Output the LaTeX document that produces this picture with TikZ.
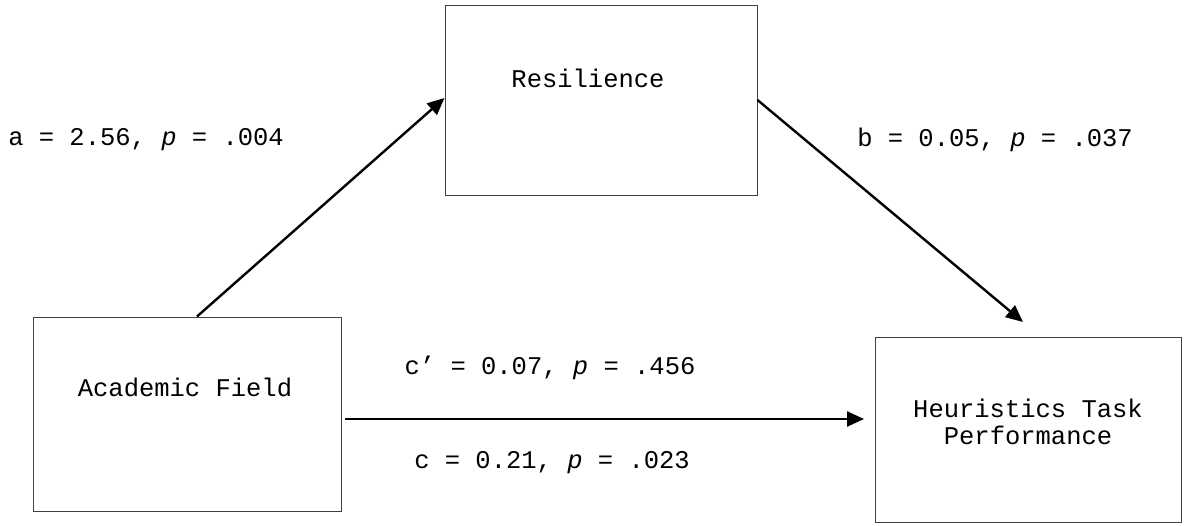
\documentclass[tikz,border=0pt]{standalone}
\usepackage{fontspec}
\setmonofont{Liberation Mono}
\usetikzlibrary{arrows.meta}
\begin{document}
\begin{tikzpicture}[x=1pt,y=-1pt,
  box/.style={draw=black!75,line width=1pt,inner sep=0pt},
  lbl/.style={font=\ttfamily\fontsize{25.5}{27}\selectfont,inner sep=0pt,anchor=center},
  arr/.style={draw=black,line width=2.4pt,-{Triangle[length=17pt,width=15pt]}}]
\useasboundingbox (0,0) rectangle (1185,525);
\node[box,minimum width=312pt,minimum height=190pt] (res) at (601,100) {};
\node[box,minimum width=308pt,minimum height=194pt] (af) at (187,414) {};
\node[box,minimum width=306pt,minimum height=185pt] (htp) at (1028,429.5) {};
\node[lbl] (tres) at (588,78) {Resilience};
\node[lbl] (taf) at (185,387) {Academic Field};
\node[lbl,align=center] (thtp) at (1028,422) {Heuristics Task\\Performance};
\node[lbl] (la) at (146,140) {a = 2.56, \textit{p} = .004};
\node[lbl] (lb) at (995,140) {b = 0.05, \textit{p} = .037};
\node[lbl] (lcp) at (550,368) {c’ = 0.07, \textit{p} = .456};
\node[lbl] (lc) at (552,463) {c = 0.21, \textit{p} = .023};
\coordinate (bend) at (1023,322);
\coordinate (cstart) at (345,419);
\coordinate (cend) at (864,419);
\draw[arr] ([xshift=10pt]af.north) -- ([yshift=2pt]res.west);
\draw[arr] (res.east) -- (bend);
\draw[arr] (cstart) -- (cend);
\end{tikzpicture}
\end{document}
